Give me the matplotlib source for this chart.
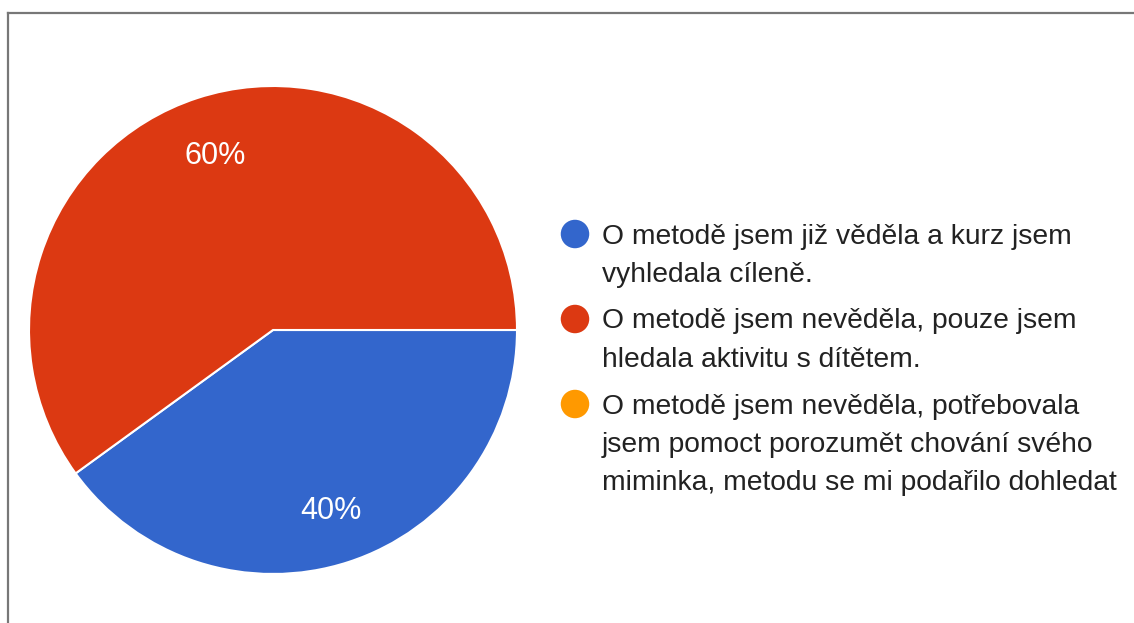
import matplotlib
matplotlib.use("Agg")
import matplotlib.pyplot as plt
from matplotlib.lines import Line2D

categories = [
    "O metodě jsem již věděla a kurz jsem\nvyhledala cíleně.",
    "O metodě jsem nevěděla, pouze jsem\nhledala aktivitu s dítětem.",
    "O metodě jsem nevěděla, potřebovala\njsem pomoct porozumět chování svého\nmiminka, metodu se mi podařilo dohledat",
]
values = [40, 60, 0]
colors = ["#3366CC", "#DC3912", "#FF9900"]

W, H = 1134, 623
fig = plt.figure(figsize=(W / 100, H / 100), dpi=100)
fig.patch.set_facecolor("white")

# pie axes: centre (273, 330) px, radius 244 px
cx, cy, r = 273, 330, 244
ax = fig.add_axes([(cx - r) / W, (H - cy - r) / H, 2 * r / W, 2 * r / H])
nz = [(v, c) for v, c in zip(values, colors) if v > 0]
wedges, texts, autotexts = ax.pie(
    [v for v, _ in nz], colors=[c for _, c in nz], startangle=0, counterclock=False,
    autopct="%d%%", pctdistance=0.765, radius=1,
    wedgeprops=dict(edgecolor="white", linewidth=1.5),
    textprops=dict(color="white", fontsize=22, family="Liberation Sans"),
)
for t in autotexts:
    t.set_va("center_baseline")
ax.set_xlim(-1, 1)
ax.set_ylim(-1, 1)
ax.set_aspect("equal")
ax.axis("off")

# overlay axes in pixel coordinates for legend and frame
ov = fig.add_axes([0, 0, 1, 1])
ov.set_xlim(0, W)
ov.set_ylim(H, 0)
ov.axis("off")
ov.patch.set_alpha(0)

ov.add_line(Line2D([7.5, W], [12.5, 12.5], color="#777777", lw=1.6))
ov.add_line(Line2D([7.5, 7.5], [12.5, H], color="#777777", lw=1.6))

first_line_y = [234, 319, 404]
line_step = 38.5
for cat, col, y0 in zip(categories, colors, first_line_y):
    ov.scatter([575], [y0], s=(28.5 * 0.72) ** 2, color=col, edgecolors="none", zorder=3)
    for i, line in enumerate(cat.split("\n")):
        ov.text(602, y0 + 9.5 + i * line_step, line, fontsize=20.3, family="Liberation Sans",
                color="#222222", ha="left", va="baseline")

fig.savefig("out.png", dpi=100, facecolor="white")
